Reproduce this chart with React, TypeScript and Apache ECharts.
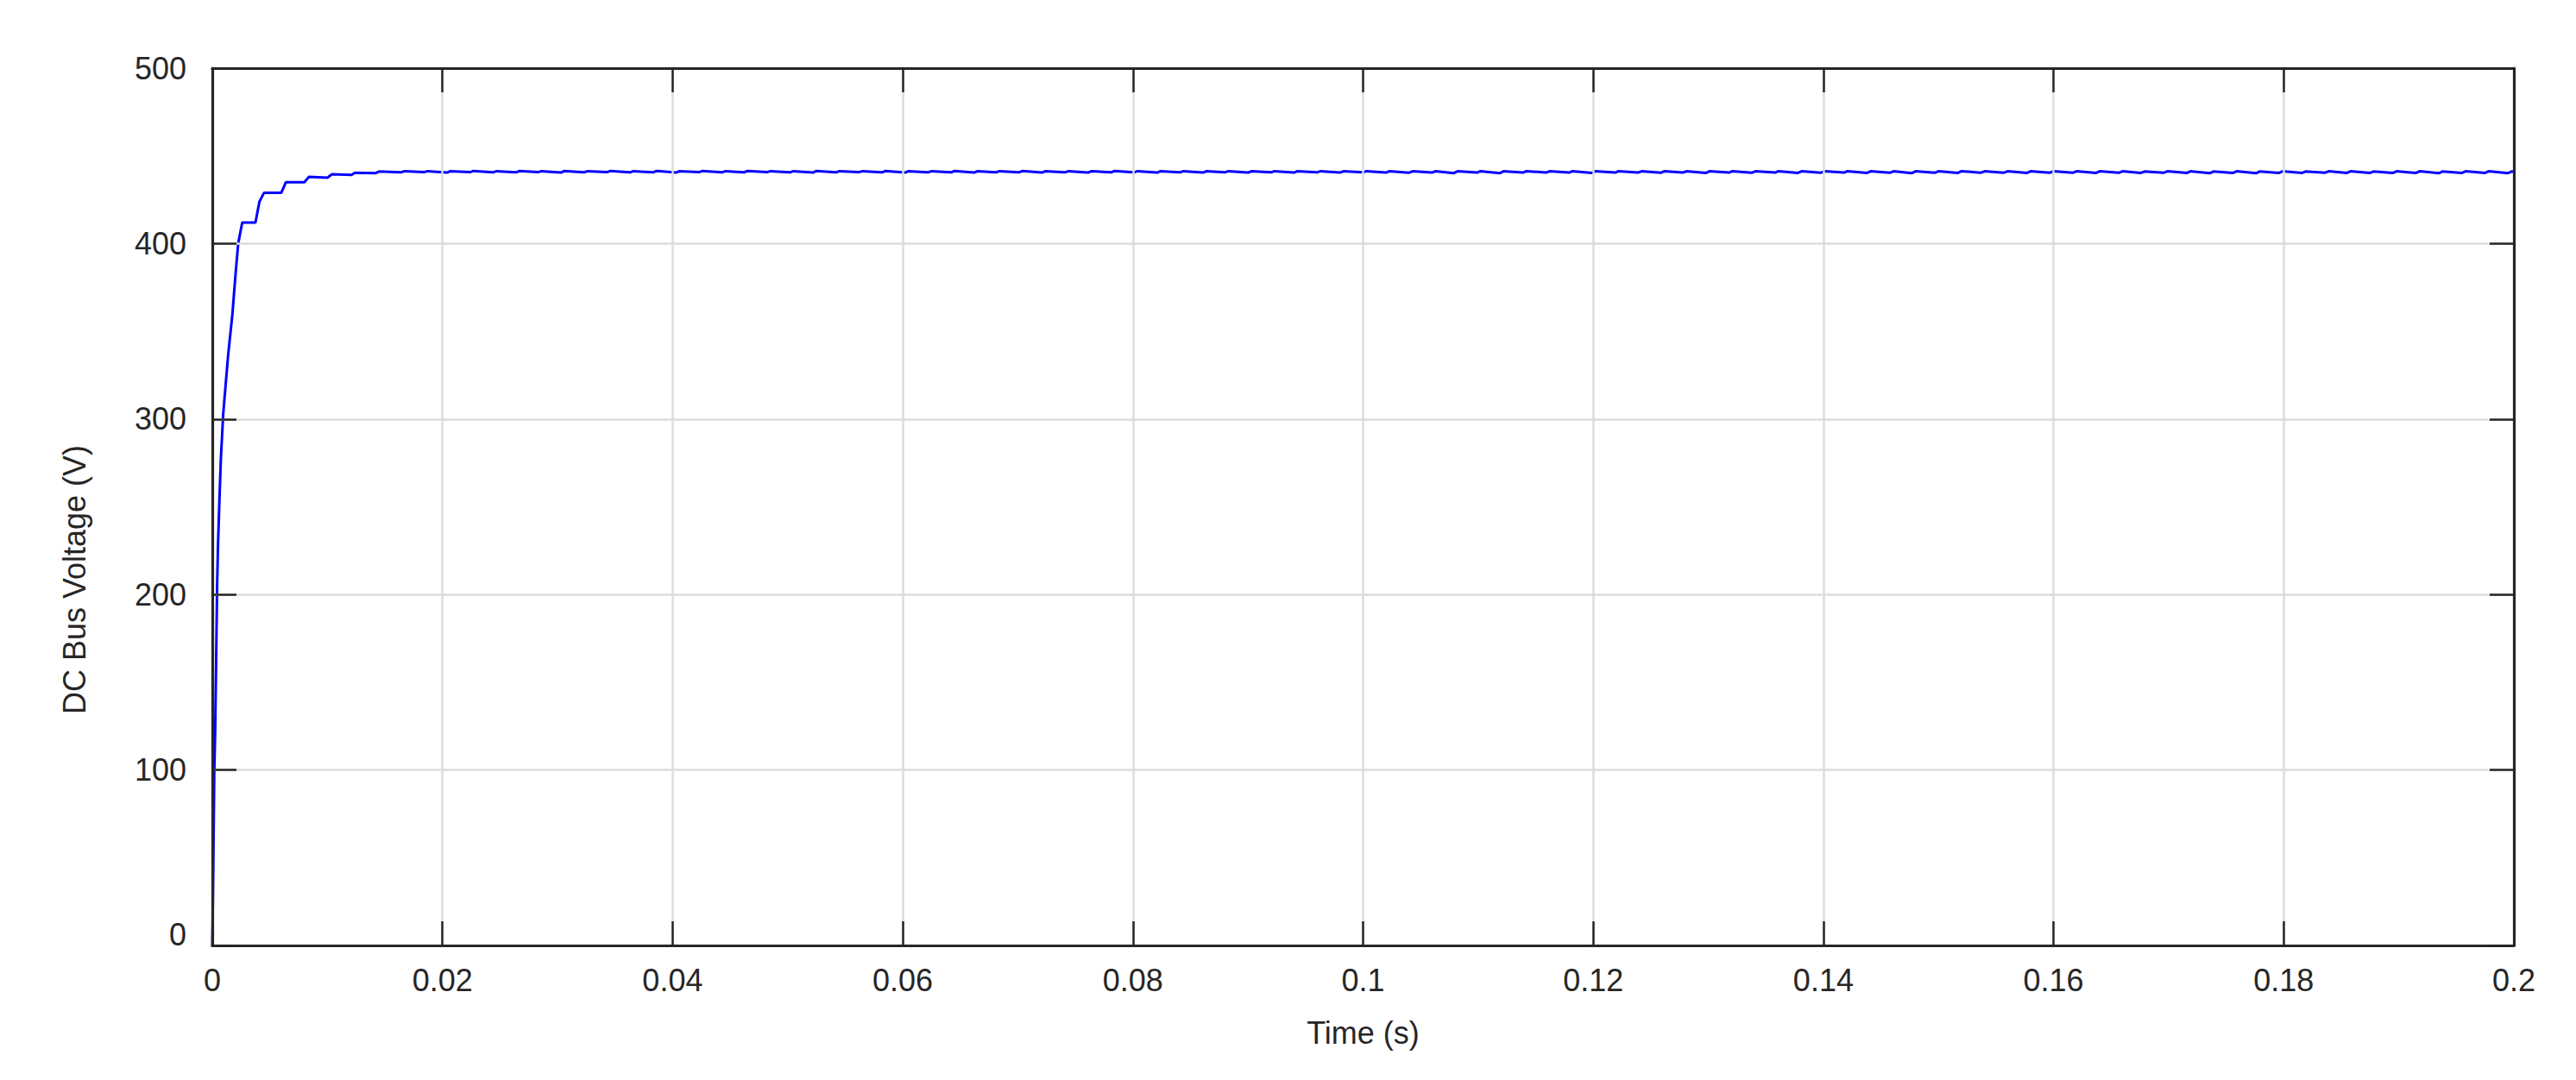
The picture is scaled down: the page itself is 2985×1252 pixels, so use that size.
import { useEffect, useRef } from "react";
import * as echarts from "echarts";

// Axis ranges and ticks
const xMin = 0;
const xMax = 0.2;
const xInterval = 0.02;
const yMin = 0;
const yMax = 500;
const yInterval = 100;

const xName = "Time (s)";
const yName = "DC Bus Voltage (V)";

// Start-up transient [time (s), voltage (V)]
const transient: [number, number][] = [
  [0, 0], [0.00005, 24], [0.00012, 65], [0.00017, 98], [0.00025, 122],
  [0.00032, 155], [0.00042, 205], [0.0005, 229], [0.00062, 254], [0.00075, 278],
  [0.00095, 303], [0.00137, 336], [0.00175, 360], [0.002, 381], [0.00225, 400],
  [0.0026, 412], [0.00375, 412], [0.0041, 424], [0.0045, 429], [0.006, 429],
  [0.0064, 435], [0.008, 435], [0.0084, 438], [0.01, 437.6], [0.0104, 439.5],
  [0.0121, 439.2], [0.0124, 440.4], [0.0142, 440.2], [0.0145, 441.1],
];

// Steady-state ripple [time (s), voltage (V)]
const steady: [number, number][] = [
  [0.0164, 440.6], [0.0167, 441.3], [0.0184, 440.7], [0.0187, 441.3], [0.0204, 440.5], [0.0207, 441.3],
  [0.0224, 440.7], [0.0227, 441.4], [0.0244, 440.6], [0.0247, 441.3], [0.0264, 440.6], [0.0267, 441.4],
  [0.0283, 440.7], [0.0286, 441.3], [0.0303, 440.5], [0.0306, 441.4], [0.0323, 440.6], [0.0326, 441.3],
  [0.0343, 440.7], [0.0346, 441.4], [0.0363, 440.6], [0.0366, 441.3], [0.0383, 440.6], [0.0386, 441.4],
  [0.0403, 440.5], [0.0406, 441.3], [0.0423, 440.7], [0.0426, 441.4], [0.0443, 440.6], [0.0446, 441.3],
  [0.0462, 440.6], [0.0465, 441.4], [0.0482, 440.7], [0.0485, 441.3], [0.0502, 440.6], [0.0505, 441.3],
  [0.0522, 440.5], [0.0525, 441.4], [0.0542, 440.6], [0.0545, 441.3], [0.0562, 440.7], [0.0565, 441.3],
  [0.0582, 440.6], [0.0585, 441.4], [0.0602, 440.5], [0.0605, 441.3], [0.0622, 440.6], [0.0625, 441.3],
  [0.0642, 440.6], [0.0645, 441.4], [0.0662, 440.5], [0.0665, 441.3], [0.0681, 440.6], [0.0684, 441.3],
  [0.0701, 440.6], [0.0704, 441.4], [0.0721, 440.5], [0.0724, 441.3], [0.0741, 440.6], [0.0744, 441.3],
  [0.0761, 440.5], [0.0764, 441.3], [0.0781, 440.6], [0.0784, 441.4], [0.0801, 440.6], [0.0804, 441.3],
  [0.0821, 440.5], [0.0824, 441.3], [0.0841, 440.6], [0.0844, 441.3], [0.0861, 440.5], [0.0864, 441.3],
  [0.088, 440.6], [0.0883, 441.3], [0.09, 440.5], [0.0903, 441.2], [0.092, 440.6], [0.0923, 441.3],
  [0.094, 440.5], [0.0943, 441.3], [0.096, 440.6], [0.0963, 441.3], [0.098, 440.5], [0.0983, 441.2],
  [0.1, 440.6], [0.1003, 441.3], [0.102, 440.5], [0.1023, 441.3], [0.104, 440.4], [0.1043, 441.2],
  [0.106, 440.5], [0.1063, 441.3], [0.1079, 440.2], [0.1082, 441.2], [0.1099, 440.5], [0.1102, 441.3],
  [0.1119, 440.2], [0.1122, 441.2], [0.1139, 440.5], [0.1142, 441.3], [0.1159, 440.5], [0.1162, 441.2],
  [0.1179, 440.5], [0.1182, 441.3], [0.1199, 440.3], [0.1202, 441.3], [0.1219, 440.5], [0.1222, 441.3],
  [0.1239, 440.5], [0.1242, 441.2], [0.1259, 440.4], [0.1262, 441.3], [0.1278, 440.5], [0.1281, 441.2],
  [0.1298, 440.3], [0.1301, 441.2], [0.1318, 440.5], [0.1321, 441.3], [0.1338, 440.4], [0.1341, 441.2],
  [0.1358, 440.5], [0.1361, 441.3], [0.1378, 440.3], [0.1381, 441.2], [0.1398, 440.4], [0.1401, 441.2],
  [0.1418, 440.5], [0.1421, 441.3], [0.1438, 440.3], [0.1441, 441.2], [0.1458, 440.4], [0.1461, 441.2],
  [0.1477, 440.2], [0.148, 441.2], [0.1497, 440.4], [0.15, 441.2], [0.1517, 440.3], [0.152, 441.3],
  [0.1537, 440.4], [0.154, 441.2], [0.1557, 440.4], [0.156, 441.2], [0.1577, 440.3], [0.158, 441.2],
  [0.1597, 440.4], [0.16, 441.3], [0.1617, 440.4], [0.162, 441.2], [0.1637, 440.3], [0.164, 441.2],
  [0.1657, 440.4], [0.166, 441.2], [0.1676, 440.3], [0.1679, 441.1], [0.1696, 440.4], [0.1699, 441.2],
  [0.1716, 440.3], [0.1719, 441.2], [0.1736, 440.2], [0.1739, 441.1], [0.1756, 440.3], [0.1759, 441.2],
  [0.1776, 440.1], [0.1779, 441.1], [0.1796, 440.3], [0.1799, 441.2], [0.1816, 440.3], [0.1819, 441.1],
  [0.1836, 440.4], [0.1839, 441.2], [0.1855, 440.3], [0.1858, 441.2], [0.1875, 440.3], [0.1878, 441.1],
  [0.1895, 440.3], [0.1898, 441.2], [0.1915, 440.3], [0.1918, 441.2], [0.1935, 440.2], [0.1938, 441.1],
  [0.1955, 440.3], [0.1958, 441.2], [0.1975, 440.3], [0.1978, 441.2], [0.1995, 440.2], [0.1998, 441.1],
  [0.2, 441.0],
];

const FONT = "'Liberation Sans', Arial, Helvetica, sans-serif";
const DARK = "#262626";
const GRID_COLOR = "#dcdcdc";

function fmtX(v: number): string {
  return String(Number(v.toFixed(3)));
}

export default function App() {
  const ref = useRef<HTMLDivElement>(null);

  useEffect(() => {
    document.body.style.margin = "0";
    const chart = echarts.init(ref.current!, null, { renderer: "svg" });
    const tickStyle = { color: DARK, width: 2.5 };
    const axisLineStyle = { color: DARK, width: 3.2 };
    const labelBase = { color: DARK, fontSize: 36, fontFamily: FONT };
    chart.setOption({
      animation: false,
      backgroundColor: "#ffffff",
      grid: {
        left: 246,
        top: 79,
        width: 2667,
        height: 1017,
        show: false,
      },
      xAxis: [
        {
          type: "value",
          min: xMin,
          max: xMax,
          interval: xInterval,
          position: "bottom",
          axisLine: { show: true, onZero: false, lineStyle: axisLineStyle },
          axisTick: { show: true, inside: true, length: 28, lineStyle: tickStyle },
          axisLabel: { ...labelBase, margin: 22, formatter: (v: number) => fmtX(v) },
          splitLine: { show: true, lineStyle: { color: GRID_COLOR, width: 2.5 } },
          name: xName,
          nameLocation: "middle",
          nameGap: 83,
          nameTextStyle: { ...labelBase },
          z: 10,
        },
        {
          type: "value",
          min: xMin,
          max: xMax,
          interval: xInterval,
          position: "top",
          axisLine: { show: true, onZero: false, lineStyle: axisLineStyle },
          axisTick: { show: true, inside: true, length: 28, lineStyle: tickStyle },
          axisLabel: { show: false },
          splitLine: { show: false },
          z: 10,
        },
      ],
      yAxis: [
        {
          type: "value",
          min: yMin,
          max: yMax,
          interval: yInterval,
          position: "left",
          axisLine: { show: true, onZero: false, lineStyle: axisLineStyle },
          axisTick: { show: true, inside: true, length: 28, lineStyle: tickStyle },
          axisLabel: {
            ...labelBase,
            margin: 30,
            formatter: (v: number) => (v === 0 ? "{z|0}" : String(v)),
            rich: { z: { ...labelBase, padding: [0, 0, 26, 0] } },
          },
          splitLine: { show: true, lineStyle: { color: GRID_COLOR, width: 2.5 } },
          z: 10,
        },
        {
          type: "value",
          min: yMin,
          max: yMax,
          interval: yInterval,
          position: "right",
          axisLine: { show: true, onZero: false, lineStyle: axisLineStyle },
          axisTick: { show: true, inside: true, length: 28, lineStyle: tickStyle },
          axisLabel: { show: false },
          splitLine: { show: false },
          z: 10,
        },
      ],
      graphic: [
        {
          type: "text",
          x: 86,
          y: 672,
          rotation: Math.PI / 2,
          style: {
            text: yName,
            fill: DARK,
            font: `36px ${FONT}`,
            align: "center",
            verticalAlign: "middle",
          },
        },
      ],
      series: [
        {
          type: "line",
          xAxisIndex: 0,
          yAxisIndex: 0,
          data: [...transient, ...steady],
          showSymbol: false,
          symbol: "none",
          lineStyle: { color: "#0000ff", width: 3 },
          itemStyle: { color: "#0000ff" },
          clip: true,
          z: 5,
        },
      ],
    });
    return () => chart.dispose();
  }, []);

  return <div ref={ref} style={{ width: 2985, height: 1252 }} />;
}
